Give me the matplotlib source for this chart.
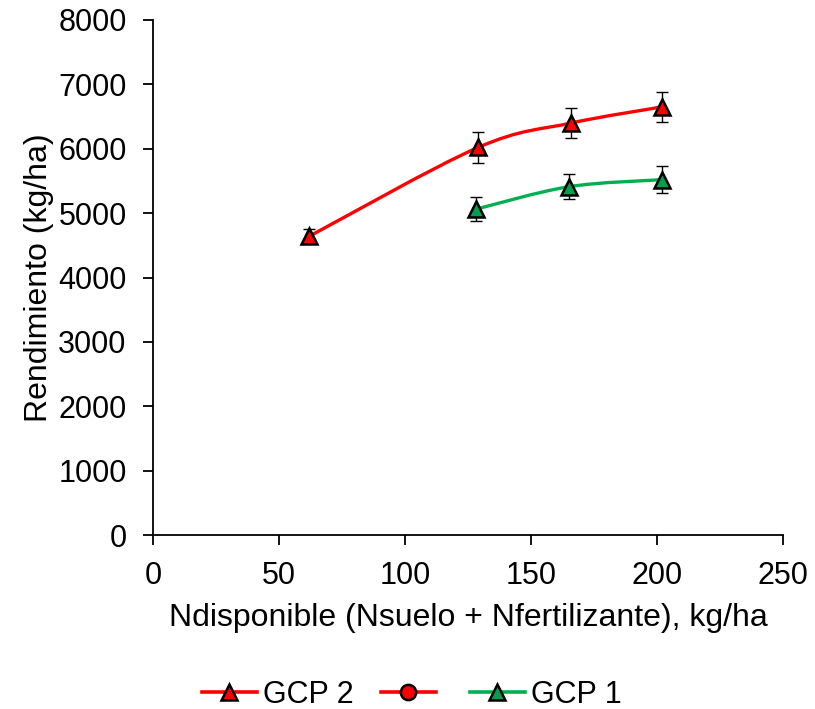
import matplotlib
matplotlib.use("Agg")
import matplotlib.pyplot as plt
from matplotlib.path import Path
from matplotlib.patches import PathPatch
from matplotlib.lines import Line2D
import numpy as np

plt.rcParams["font.family"] = ["Liberation Sans", "DejaVu Sans"]
plt.rcParams["font.size"] = 22

# data
x_gcp2 = [62, 129, 166, 202]
y_gcp2 = [4640, 6020, 6400, 6650]
err_gcp2 = [110, 245, 240, 230]

x_gcp1 = [128, 165, 202]
y_gcp1 = [5060, 5410, 5520]
err_gcp1 = [185, 195, 205]

RED = "#FF0000"
GREEN_LINE = "#00B050"
GREEN_FILL = "#00A050"


def smooth_path(xs, ys):
    # Excel-like smoothed line: cubic Bezier segments through the points
    pts = np.column_stack([xs, ys]).astype(float)
    n = len(pts)
    verts = [pts[0]]
    codes = [Path.MOVETO]
    for i in range(n - 1):
        p_prev = pts[max(i - 1, 0)]
        p0 = pts[i]
        p1 = pts[i + 1]
        p_next = pts[min(i + 2, n - 1)]
        c1 = p0 + (p1 - p_prev) / 6.0
        c2 = p1 - (p_next - p0) / 6.0
        verts += [c1, c2, p1]
        codes += [Path.CURVE4] * 3
    return Path(verts, codes)


fig = plt.figure(figsize=(8.15, 7.09), dpi=100)
ax = fig.add_axes([0.1877, 0.2454, 0.773, 0.7264])

for xs, ys, errs, lc, fc in [
    (x_gcp2, y_gcp2, err_gcp2, RED, RED),
    (x_gcp1, y_gcp1, err_gcp1, GREEN_LINE, GREEN_FILL),
]:
    ax.add_patch(PathPatch(smooth_path(xs, ys), facecolor="none", edgecolor=lc,
                           linewidth=2.4, zorder=2, transform=ax.transData))
    ax.errorbar(xs, ys, yerr=errs, fmt="none", ecolor="black", elinewidth=1.0,
                capsize=4.5, capthick=1.0, zorder=3)
    ax.plot(xs, ys, linestyle="none", marker="^", markersize=11,
            markerfacecolor=fc, markeredgecolor="black", markeredgewidth=1.8,
            zorder=4)

ax.set_xlim(0, 250)
ax.set_ylim(0, 8000)
ax.set_xticks(np.arange(0, 251, 50))
ax.set_yticks(np.arange(0, 8001, 1000))
ax.spines["top"].set_visible(False)
ax.spines["right"].set_visible(False)
for s in ("left", "bottom"):
    ax.spines[s].set_linewidth(1.3)
ax.tick_params(direction="out", length=7, width=1.3, pad=12, labelsize=22)

ax.set_xlabel("Ndisponible (Nsuelo + Nfertilizante), kg/ha", fontsize=23, labelpad=8)
ax.set_ylabel("Rendimiento (kg/ha)", fontsize=23, labelpad=3)

handles = [
    Line2D([], [], color=RED, linewidth=2.6, marker="^", markersize=11,
           markerfacecolor=RED, markeredgecolor="black", markeredgewidth=1.8),
    Line2D([], [], color=RED, linewidth=2.6, marker="o", markersize=11,
           markerfacecolor=RED, markeredgecolor="black", markeredgewidth=1.8),
    Line2D([], [], color=GREEN_LINE, linewidth=2.6, marker="^", markersize=11,
           markerfacecolor=GREEN_FILL, markeredgecolor="black", markeredgewidth=1.8),
]
fig.legend(handles, ["GCP 2", "", "GCP 1"], loc="center", ncol=3,
           bbox_to_anchor=(0.505, 1 - 695 / 709), frameon=False, fontsize=22,
           handlelength=1.8, handletextpad=0.2, columnspacing=0.9)

fig.savefig("out.png", dpi=100)
